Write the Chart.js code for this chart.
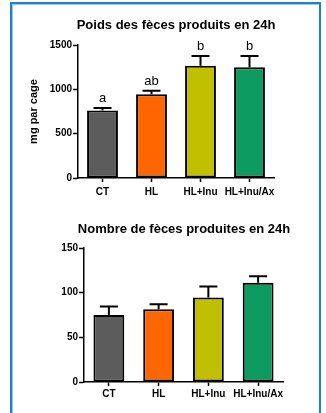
<!DOCTYPE html>
<html>
<head>
<meta charset="utf-8">
<script src="https://cdn.jsdelivr.net/npm/chart.js@4/dist/chart.umd.min.js"></script>
<style>
  body { margin: 0; width: 326px; height: 413px; overflow: hidden; background: #fff; position: relative; }
  #frame { position: absolute; left: 10px; top: 2px; width: 307px; height: 430px;
           border: 2px solid #1e7fd5; border-bottom: none; box-shadow: inset 1px 1px 0 #9cc8f0; }
  .box { position: absolute; left: 0; }
  #box1 { top: 0; width: 326px; height: 200px; }
  #box2 { top: 200px; width: 326px; height: 213px; }
</style>
</head>
<body>
<div id="frame"></div>
<div class="box" id="box1"><canvas id="poidsChart"></canvas></div>
<div class="box" id="box2"><canvas id="nombreChart"></canvas></div>
<script>
// 数据
const groupes = ['CT', 'HL', 'HL+Inu', 'HL+Inu/Ax'];
const couleurs = ['#5c5c5c', '#ff6600', '#c0bf00', '#0c9a60'];

const poidsMoyenne = [760, 945, 1265, 1248];
const poidsErreur = [30, 38, 112, 128];
const poidsLettres = ['a', 'ab', 'b', 'b'];
const poidsTicks = [0, 500, 1000, 1500];

const nombreMoyenne = [75, 81.5, 94.5, 111];
const nombreErreur = [9.5, 5.5, 12.5, 7.5];
const nombreTicks = [0, 50, 100, 150];

const FONT = 'Liberation Sans, Arial, sans-serif';

// 误差线 + 字母 + 标题
const errorBarPlugin = {
    id: 'errorBars',
    afterDatasetsDraw(chart, args, opts) {
        const ctx = chart.ctx;
        const x = chart.scales.x;
        const y = chart.scales.y;
        ctx.save();
        ctx.strokeStyle = '#000';
        ctx.lineWidth = 2;
        opts.moyenne.forEach((v, i) => {
            const cx = x.getPixelForValue(i);
            const yTop = y.getPixelForValue(v);
            const yErr = y.getPixelForValue(v + opts.erreur[i]);
            ctx.beginPath();
            ctx.moveTo(cx, yTop);
            ctx.lineTo(cx, yErr);
            ctx.moveTo(cx - 9, yErr);
            ctx.lineTo(cx + 9, yErr);
            ctx.stroke();
            if (opts.lettres) {
                ctx.fillStyle = '#000';
                ctx.font = '13px ' + FONT;
                ctx.textAlign = 'center';
                ctx.textBaseline = 'alphabetic';
                ctx.fillText(opts.lettres[i], cx, yErr - 6);
            }
        });
        ctx.fillStyle = '#000';
        ctx.font = 'bold 13px ' + FONT;
        ctx.textAlign = 'center';
        ctx.textBaseline = 'middle';
        ctx.fillText(opts.titre, opts.titreX, opts.titreY);
        ctx.restore();
    }
};

function makeChart(id, moyenne, erreur, ticks, opts) {
    const ctx = document.getElementById(id).getContext('2d');
    return new Chart(ctx, {
        type: 'bar',
        data: {
            labels: groupes,
            datasets: [{
                data: moyenne,
                backgroundColor: couleurs,
                borderColor: '#000',
                borderWidth: 2,
                borderSkipped: false,
                categoryPercentage: 1,
                barPercentage: opts.barPct
            }]
        },
        options: {
            responsive: true,
            maintainAspectRatio: false,
            animation: false,
            layout: { padding: opts.padding },
            plugins: {
                legend: { display: false },
                tooltip: { enabled: false },
                errorBars: {
                    moyenne: moyenne,
                    erreur: erreur,
                    lettres: opts.lettres,
                    titre: opts.titre,
                    titreX: opts.titreX,
                    titreY: opts.titreY
                }
            },
            scales: {
                x: {
                    afterFit: s => { s.height = opts.xHeight; },
                    grid: { display: true, drawOnChartArea: false, drawTicks: true, tickLength: 4, tickWidth: 1.5, tickColor: '#000', offset: false },
                    border: { display: true, color: '#000', width: 1.5 },
                    ticks: { color: '#000', padding: opts.xPad, font: { family: FONT, size: 10, weight: 'bold' }, maxRotation: 0, autoSkip: false }
                },
                y: {
                    min: 0,
                    max: ticks[ticks.length - 1],
                    afterFit: s => { s.width = opts.yWidth; },
                    afterBuildTicks: s => { s.ticks = ticks.map(v => ({ value: v })); },
                    grid: { display: true, drawOnChartArea: false, drawTicks: true, tickLength: 5, tickWidth: 1.5, tickColor: '#000' },
                    border: { display: true, color: '#000', width: 1.5 },
                    ticks: {
                        color: '#000', padding: 1,
                        font: { family: FONT, size: 10, weight: 'bold' },
                        callback: v => String(v)
                    },
                    title: {
                        display: !!opts.yTitle,
                        text: opts.yTitle || '',
                        color: '#000',
                        padding: { top: 27, bottom: 0 },
                        font: { family: FONT, size: 11, weight: 'bold' }
                    }
                }
            }
        },
        plugins: [errorBarPlugin]
    });
}

document.addEventListener('DOMContentLoaded', () => {
    makeChart('poidsChart', poidsMoyenne, poidsErreur, poidsTicks, {
        padding: { left: 0, right: 52, top: 45, bottom: 0 },
        xHeight: 22, yWidth: 78, barPct: 0.63, xPad: 4,
        lettres: poidsLettres,
        yTitle: 'mg par cage',
        titre: 'Poids des fèces produits en 24h', titreX: 176, titreY: 25
    });
    makeChart('nombreChart', nombreMoyenne, nombreErreur, nombreTicks, {
        padding: { left: 0, right: 43, top: 48, bottom: 9 },
        xHeight: 22, yWidth: 84, barPct: 0.62, xPad: 2,
        lettres: null,
        yTitle: null,
        titre: 'Nombre de fèces produites en 24h', titreX: 184, titreY: 29
    });
});
</script>
</body>
</html>
